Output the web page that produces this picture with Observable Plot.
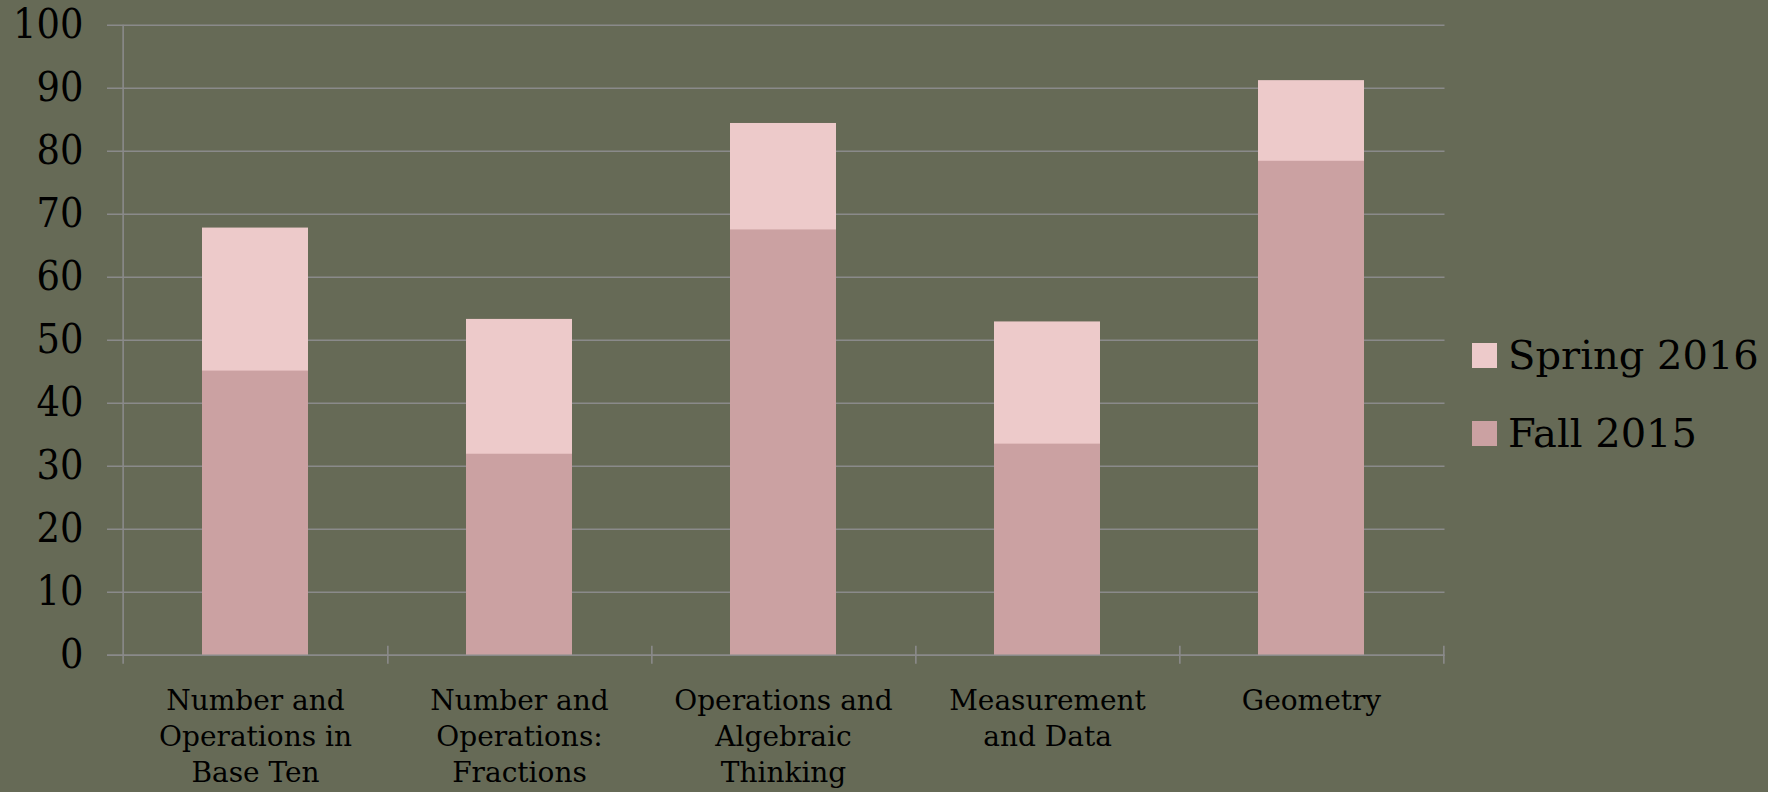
<!DOCTYPE html>
<html>
<head>
<meta charset="utf-8">
<script src="https://cdn.jsdelivr.net/npm/d3@7"></script>
<script src="https://cdn.jsdelivr.net/npm/@observablehq/plot@0.6"></script>
<style>
  html, body { margin: 0; padding: 0; background: #666a56; }
  #wrap { position: relative; width: 1768px; height: 792px; overflow: hidden; }
  #legend { position: absolute; left: 1472px; top: 330px; font-family: "DejaVu Serif", serif; font-size: 40px; color: #000; }
  .item { display: flex; align-items: center; height: 50px; margin-bottom: 28px; }
  .sw { width: 25px; height: 25px; margin-right: 11px; flex: none; }
</style>
</head>
<body>
<div id="wrap">
  <div id="chart"></div>
  <div id="legend"></div>
</div>
<script>
const categories = [
  "Number and Operations in Base Ten",
  "Number and Operations: Fractions",
  "Operations and Algebraic Thinking",
  "Measurement and Data",
  "Geometry"
];
const tickLabels = [
  "Number and\nOperations in\nBase Ten",
  "Number and\nOperations:\nFractions",
  "Operations and\nAlgebraic\nThinking",
  "Measurement\nand Data",
  "Geometry"
];
const fall2015 = [45.1, 31.9, 67.5, 33.5, 78.4];
const spring2016 = [67.8, 53.3, 84.4, 52.9, 91.2];
const seriesNames = ["Spring 2016", "Fall 2015"];
const seriesColors = ["#edcaca", "#cba1a2"];
const yTicks = [0, 10, 20, 30, 40, 50, 60, 70, 80, 90, 100];

const springData = categories.map((c, i) => ({category: c, value: spring2016[i]}));
const fallData = categories.map((c, i) => ({category: c, value: fall2015[i]}));

const W = 1768, H = 792;
const mL = 121, mR = 323.5, mT = 24.7, mB = 137.3;
const step = (W - mL - mR) / categories.length;
const gridColor = "#8a8a8a";

const plot = Plot.plot({
  width: W,
  height: H,
  marginLeft: mL,
  marginRight: mR,
  marginTop: mT,
  marginBottom: mB,
  style: {background: "transparent", fontFamily: "DejaVu Serif, serif", color: "#000", overflow: "visible"},
  x: {domain: categories, paddingInner: 0.6, paddingOuter: 0.3, axis: null},
  y: {domain: [0, 100], axis: null},
  marks: [
    Plot.ruleY(yTicks, {y: d => d, stroke: gridColor, strokeWidth: 1.6, insetLeft: -14}),
    Plot.barY(springData, {x: "category", y: "value", fill: seriesColors[0]}),
    Plot.barY(fallData, {x: "category", y: "value", fill: seriesColors[1]}),
    Plot.ruleY([0], {stroke: gridColor, strokeWidth: 1.6, insetLeft: -14}),
    Plot.ruleX([categories[0]], {x: d => d, dx: -step / 2, y1: 100, y2: 0, stroke: gridColor, strokeWidth: 1.6, insetBottom: -9}),
    Plot.ruleX(categories, {x: d => d, dx: step / 2, y1: 0, y2: 0, stroke: gridColor, strokeWidth: 1.6, insetTop: -9, insetBottom: -9}),
    Plot.axisY({
      ticks: yTicks,
      label: null,
      tickSize: 0,
      tickPadding: 38,
      fontSize: 41,
      fill: "#000",
      fontFamily: "DejaVu Serif Condensed, DejaVu Serif, serif",
      fontStretch: "condensed"
    }),
    Plot.axisX({
      label: null,
      tickSize: 0,
      tickPadding: 29,
      fontSize: 28,
      fill: "#000",
      lineHeight: 1.29,
      tickFormat: d => tickLabels[categories.indexOf(d)]
    })
  ]
});
document.getElementById("chart").appendChild(plot);

const legend = document.getElementById("legend");
seriesNames.forEach((name, i) => {
  const item = document.createElement("div");
  item.className = "item";
  const sw = document.createElement("div");
  sw.className = "sw";
  sw.style.background = seriesColors[i];
  const label = document.createElement("span");
  label.textContent = name;
  item.appendChild(sw);
  item.appendChild(label);
  legend.appendChild(item);
});
</script>
</body>
</html>
